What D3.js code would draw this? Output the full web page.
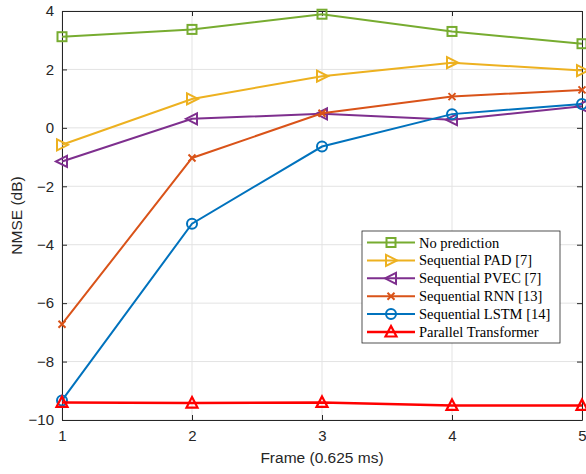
<!DOCTYPE html>
<html>
<head>
<meta charset="utf-8">
<script src="https://cdn.jsdelivr.net/npm/d3@7"></script>
<style>
  body { margin: 0; background: #fff; }
  svg { display: block; }
</style>
</head>
<body>
<svg width="586" height="474"></svg>
<script>
var frames = [1, 2, 3, 4, 5];
var noPrediction = [3.12, 3.37, 3.89, 3.3, 2.88];
var seqPAD = [-0.58, 0.99, 1.77, 2.23, 1.96];
var seqPVEC = [-1.15, 0.31, 0.48, 0.28, 0.74];
var seqRNN = [-6.72, -1.03, 0.5, 1.07, 1.3];
var seqLSTM = [-9.33, -3.28, -0.64, 0.47, 0.82];
var parTransformer = [-9.4, -9.42, -9.4, -9.5, -9.5];
var yTicks = [-10, -8, -6, -4, -2, 0, 2, 4];

var series = [
  { name: "No prediction", values: noPrediction, color: "#77AC30", marker: "square" },
  { name: "Sequential PAD [7]", values: seqPAD, color: "#EDB120", marker: "right" },
  { name: "Sequential PVEC [7]", values: seqPVEC, color: "#7E2F8E", marker: "left" },
  { name: "Sequential RNN [13]", values: seqRNN, color: "#D95319", marker: "x" },
  { name: "Sequential LSTM [14]", values: seqLSTM, color: "#0072BD", marker: "circle" },
  { name: "Parallel Transformer", values: parTransformer, color: "#FF0000", marker: "up" }
];

var svg = d3.select("svg");
var plotL = 62, plotR = 582, plotT = 11, plotB = 420;

var x = d3.scaleLinear().domain([1, 5]).range([plotL, plotR]);
var y = d3.scaleLinear().domain([-10, 4]).range([plotB, plotT]);

// grid
var g = svg.append("g");
g.selectAll(".gx").data(frames).enter().append("line")
  .attr("x1", d => x(d)).attr("x2", d => x(d))
  .attr("y1", plotT).attr("y2", plotB)
  .attr("stroke", "#e3e3e3").attr("stroke-width", 1);
g.selectAll(".gy").data(yTicks).enter().append("line")
  .attr("x1", plotL).attr("x2", plotR)
  .attr("y1", d => y(d)).attr("y2", d => y(d))
  .attr("stroke", "#e3e3e3").attr("stroke-width", 1);

// axes (MATLAB style, ticks inside)
function styleAxis(sel) {
  sel.selectAll("path").attr("stroke", "#262626");
  sel.selectAll("line").attr("stroke", "#262626");
  sel.selectAll("text").attr("fill", "#262626")
    .style("font-family", "Liberation Sans, Arial, sans-serif").style("font-size", "15px");
}
svg.append("g").attr("transform", "translate(0," + plotB + ")")
  .call(d3.axisBottom(x).tickValues(frames).tickFormat(d3.format("d")).tickSizeInner(-5).tickSizeOuter(0).tickPadding(10))
  .call(styleAxis);
svg.append("g").attr("transform", "translate(" + plotL + ",0)")
  .call(d3.axisLeft(y).tickValues(yTicks).tickFormat(d3.format("d")).tickSizeInner(-5).tickSizeOuter(0).tickPadding(8))
  .call(styleAxis);
svg.append("g").attr("transform", "translate(0," + plotT + ")")
  .call(d3.axisTop(x).tickValues(frames).tickFormat("").tickSizeInner(-5).tickSizeOuter(0))
  .call(styleAxis);
svg.append("g").attr("transform", "translate(" + plotR + ",0)")
  .call(d3.axisRight(y).tickValues(yTicks).tickFormat("").tickSizeInner(-5).tickSizeOuter(0))
  .call(styleAxis);

// labels
svg.append("text").attr("x", (plotL + plotR) / 2).attr("y", 463)
  .attr("text-anchor", "middle").attr("fill", "#262626")
  .style("font-family", "Liberation Sans, Arial, sans-serif").style("font-size", "15.5px")
  .text("Frame (0.625 ms)");
svg.append("text").attr("transform", "translate(22," + (plotT + plotB) / 2 + ") rotate(-90)")
  .attr("text-anchor", "middle").attr("fill", "#262626")
  .style("font-family", "Liberation Sans, Arial, sans-serif").style("font-size", "15.5px")
  .text("NMSE (dB)");

function drawMarker(sel, type, color) {
  if (type === "square") {
    sel.append("rect").attr("x", -4.5).attr("y", -4.5).attr("width", 9).attr("height", 9)
      .attr("fill", "none").attr("stroke", color).attr("stroke-width", 2);
  } else if (type === "circle") {
    sel.append("circle").attr("r", 5).attr("fill", "none").attr("stroke", color).attr("stroke-width", 2);
  } else if (type === "x") {
    sel.append("path").attr("d", "M-3.5,-3.5L3.5,3.5M-3.5,3.5L3.5,-3.5")
      .attr("stroke", color).attr("stroke-width", 2);
  } else if (type === "right") {
    sel.append("path").attr("d", "M6,0L-5,-5.5L-5,5.5Z")
      .attr("fill", "none").attr("stroke", color).attr("stroke-width", 2);
  } else if (type === "left") {
    sel.append("path").attr("d", "M-6,0L5,-5.5L5,5.5Z")
      .attr("fill", "none").attr("stroke", color).attr("stroke-width", 2);
  } else if (type === "up") {
    sel.append("path").attr("d", "M0,-6L5.5,4.5L-5.5,4.5Z")
      .attr("fill", "none").attr("stroke", color).attr("stroke-width", 2.2);
  }
}

var line = d3.line().x((d, i) => x(frames[i])).y(d => y(d));

series.forEach(function(s) {
  var sg = svg.append("g");
  sg.append("path").attr("d", line(s.values))
    .attr("fill", "none").attr("stroke", s.color)
    .attr("stroke-width", s.marker === "up" ? 2.5 : 2);
  s.values.forEach(function(v, i) {
    var m = sg.append("g").attr("transform", "translate(" + x(frames[i]) + "," + y(v) + ")");
    drawMarker(m, s.marker, s.color);
  });
});

// legend
var lg = svg.append("g").attr("transform", "translate(362,231)");
lg.append("rect").attr("width", 198).attr("height", 112)
  .attr("fill", "#fff").attr("stroke", "#262626").attr("stroke-width", 0.8);
series.forEach(function(s, i) {
  var yy = 11.5 + i * 17.9;
  var row = lg.append("g").attr("transform", "translate(0," + yy + ")");
  row.append("line").attr("x1", 5).attr("x2", 53).attr("stroke", s.color)
    .attr("stroke-width", s.marker === "up" ? 2.5 : 2);
  drawMarker(row.append("g").attr("transform", "translate(29,0)"), s.marker, s.color);
  row.append("text").attr("x", 57).attr("y", 5)
    .attr("fill", "#000")
    .style("font-family", "Liberation Serif, serif").style("font-size", "14.5px")
    .text(s.name);
});
</script>
</body>
</html>
